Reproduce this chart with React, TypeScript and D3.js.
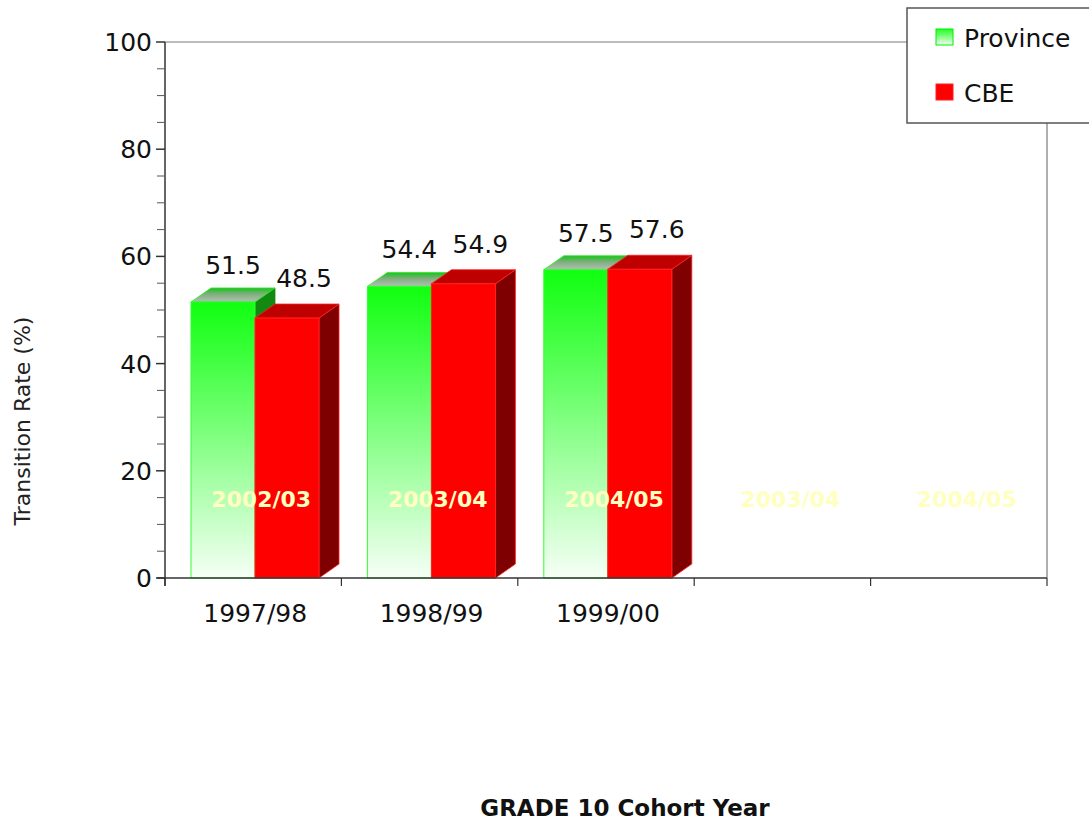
import React from 'react';
import * as d3 from 'd3';

// Grade 10 transition rates, Province vs CBE
const cohortLabels = ['1997/98', '1998/99', '1999/00', '', ''];
const seriesNames = ['Province', 'CBE'];
const provinceValues = [51.5, 54.4, 57.5];
const cbeValues = [48.5, 54.9, 57.6];
const overlayLabels = ['2002/03', '2003/04', '2004/05', '2003/04', '2004/05'];
const majorTicks = [0, 20, 40, 60, 80, 100];

const W = 1089;
const H = 820;
const margin = { top: 42, right: 42, bottom: 242, left: 165 };
const DX = 20; // 3d depth
const DY = 14;
const FONT = '"DejaVu Sans", Verdana, sans-serif';

export default function App() {
    const x = d3.scaleBand<number>()
        .domain(d3.range(cohortLabels.length))
        .range([margin.left, W - margin.right]);

    const xs = d3.scaleBand<string>()
        .domain(seriesNames)
        .range([26, 154]);

    const y = d3.scaleLinear()
        .domain([0, 100])
        .range([H - margin.bottom, margin.top]);

    const minorTicks = d3.range(0, 101, 5).filter(t => t % 20 !== 0);
    const bw = xs.bandwidth();
    const x0 = margin.left;
    const x1 = W - margin.right;
    const yb = y(0);

    const bar = (i: number, v: number, series: string) => {
        const bx = (x(i) || 0) + (xs(series) || 0);
        const top = y(v);
        const isProv = series === 'Province';
        return (
            <g key={series + i}>
                {/* side */}
                <polygon
                    points={`${bx + bw},${top} ${bx + bw + DX},${top - DY} ${bx + bw + DX},${yb - DY} ${bx + bw},${yb}`}
                    fill={isProv ? '#128a12' : '#7f0000'}
                    stroke={isProv ? '#128a12' : '#ff2020'}
                    strokeWidth={0.8}
                />
                {/* top */}
                <polygon
                    points={`${bx},${top} ${bx + DX},${top - DY} ${bx + bw + DX},${top - DY} ${bx + bw},${top}`}
                    fill={isProv ? 'url(#provTop)' : '#bf0000'}
                    stroke={isProv ? '#22ee22' : '#ff2020'}
                    strokeWidth={0.8}
                />
                {/* front */}
                <rect
                    x={bx}
                    y={top}
                    width={bw}
                    height={yb - top}
                    fill={isProv ? 'url(#provFront)' : '#ff0000'}
                    stroke={isProv ? '#33ff33' : '#ff2020'}
                    strokeWidth={1}
                />
            </g>
        );
    };

    const valueLabel = (i: number, v: number, series: string) => {
        const bx = (x(i) || 0) + (xs(series) || 0);
        const isProv = series === 'Province';
        return (
            <text
                key={'l' + series + i}
                x={bx + (bw + DX) / 2 + (isProv ? 0 : 7)}
                y={y(v) - (isProv ? 28 : 31)}
                textAnchor="middle"
                fontSize={25}
                fill="#111"
            >
                {v.toFixed(1)}
            </text>
        );
    };

    return (
        <svg
            width={W}
            height={H}
            style={{ position: 'absolute', left: 0, top: 0, background: '#fff', fontFamily: FONT }}
        >
            <defs>
                <linearGradient id="provFront" x1="0" y1="0" x2="0" y2="1">
                    <stop offset="0" stopColor="#10ff10" />
                    <stop offset="1" stopColor="#f6fff6" />
                </linearGradient>
                <linearGradient id="provTop" x1="0" y1="0" x2="0" y2="1">
                    <stop offset="0" stopColor="#1cc01c" />
                    <stop offset="0.45" stopColor="#7fb07f" />
                    <stop offset="1" stopColor="#b8bcb8" />
                </linearGradient>
                <linearGradient id="provSwatch" x1="0" y1="0" x2="0" y2="1">
                    <stop offset="0" stopColor="#20ff20" />
                    <stop offset="1" stopColor="#f0fff0" />
                </linearGradient>
            </defs>

            {/* frame top / right */}
            <line x1={x0} x2={x1} y1={y(100)} y2={y(100)} stroke="#7a7a7a" strokeWidth={1.2} />
            <line x1={x1} x2={x1} y1={y(100)} y2={yb} stroke="#7a7a7a" strokeWidth={1.2} />

            {/* bars */}
            {provinceValues.map((v, i) => (
                <g key={'b' + i}>
                    {bar(i, v, 'Province')}
                    {bar(i, cbeValues[i], 'CBE')}
                </g>
            ))}

            {/* value labels */}
            {provinceValues.map((v, i) => valueLabel(i, v, 'Province'))}
            {cbeValues.map((v, i) => valueLabel(i, v, 'CBE'))}

            {/* faint overlay labels */}
            {overlayLabels.map((t, i) => (
                <text
                    key={'o' + i}
                    x={(x(i) || 0) + x.bandwidth() / 2 + 8}
                    y={yb - 71}
                    textAnchor="middle"
                    fontSize={22}
                    fontWeight="bold"
                    fill="#ffffc0"
                >
                    {t}
                </text>
            ))}

            {/* y axis */}
            <line x1={x0} x2={x0} y1={y(100)} y2={yb + 8} stroke="#333" strokeWidth={1.5} />
            {majorTicks.map(t => (
                <g key={'yt' + t}>
                    <line x1={x0 - 9} x2={x0} y1={y(t)} y2={y(t)} stroke="#333" strokeWidth={1.5} />
                    <text x={x0 - 13} y={y(t)} dy="0.36em" textAnchor="end" fontSize={25} fill="#111">
                        {t}
                    </text>
                </g>
            ))}
            {minorTicks.map(t => (
                <line key={'ym' + t} x1={x0 - 8} x2={x0} y1={y(t)} y2={y(t)} stroke="#555" strokeWidth={1} />
            ))}

            {/* x axis */}
            <line x1={x0 - 8} x2={x1} y1={yb} y2={yb} stroke="#333" strokeWidth={1.5} />
            {d3.range(cohortLabels.length + 1).map(i => {
                const tx = i < cohortLabels.length ? (x(i) || 0) : x1;
                return <line key={'xt' + i} x1={tx} x2={tx} y1={yb} y2={yb + 8} stroke="#333" strokeWidth={1.2} />;
            })}
            {cohortLabels.map((c, i) => (
                <text
                    key={'xl' + i}
                    x={(x(i) || 0) + x.bandwidth() / 2 + 2}
                    y={yb + 44}
                    textAnchor="middle"
                    fontSize={25}
                    fill="#111"
                >
                    {c}
                </text>
            ))}

            {/* axis titles */}
            <text
                transform={`translate(22,421) rotate(-90)`}
                dy="0.35em"
                textAnchor="middle"
                fontSize={22}
                fill="#222"
            >
                Transition Rate (%)
            </text>
            <text x={625} y={816} textAnchor="middle" fontSize={23} fontWeight="bold" fill="#111">
                GRADE 10 Cohort Year
            </text>

            {/* legend */}
            <rect x={907} y={8} width={200} height={115} fill="#fff" stroke="#555" strokeWidth={1.5} />
            {seriesNames.map((s, i) => (
                <g key={'lg' + s} transform={`translate(936,${29 + i * 55})`}>
                    <rect
                        x={0}
                        y={0}
                        width={17}
                        height={16}
                        fill={s === 'Province' ? 'url(#provSwatch)' : '#ff0000'}
                        stroke={s === 'Province' ? '#00ee00' : '#ff2020'}
                        strokeWidth={1}
                    />
                    <text x={28} y={18} fontSize={25} fill="#111">
                        {s}
                    </text>
                </g>
            ))}
        </svg>
    );
}
